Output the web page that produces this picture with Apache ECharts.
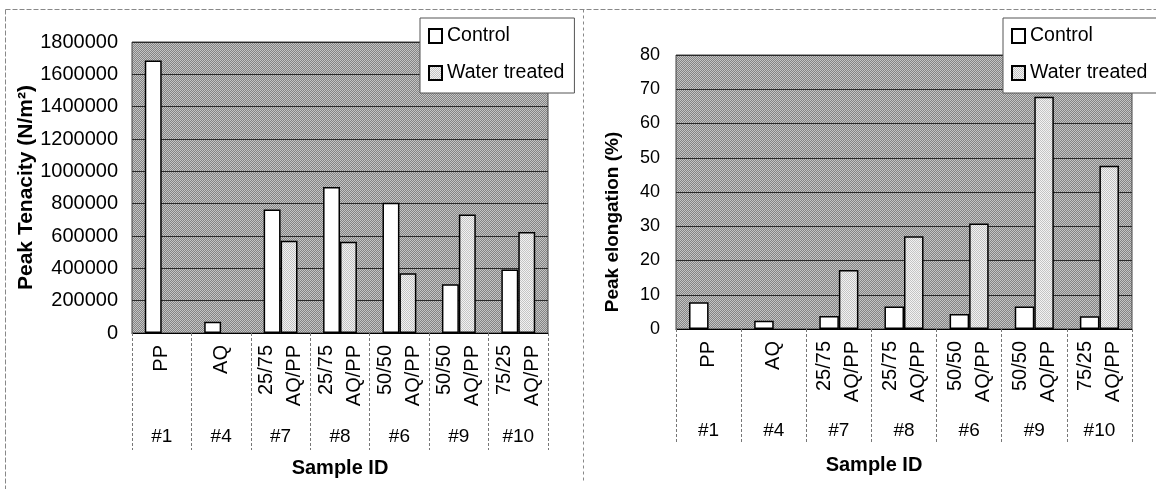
<!DOCTYPE html>
<html>
<head>
<meta charset="utf-8">
<script src="https://cdn.jsdelivr.net/npm/echarts@6/dist/echarts.min.js"></script>
<style>
  html, body { margin: 0; padding: 0; background: #fff; }
  #chart { width: 1156px; height: 489px; }
</style>
</head>
<body>
<div id="chart"></div>
<script>
const categories = ['PP', 'AQ', '25/75\nAQ/PP', '25/75\nAQ/PP', '50/50\nAQ/PP', '50/50\nAQ/PP', '75/25\nAQ/PP'];
const sampleIds = ['#1', '#4', '#7', '#8', '#6', '#9', '#10'];
const seriesNames = ['Control', 'Water treated'];

const tenacityControl = [1685000, 70000, 764000, 903000, 805000, 301000, 393000];
const tenacityWater = [null, null, 570000, 565000, 369000, 733000, 625000];

const elongationControl = [7.8, 2.4, 3.8, 6.6, 4.4, 6.6, 3.7];
const elongationWater = [null, null, 17.2, 27.1, 30.8, 67.8, 47.7];

const FONT = '"Liberation Sans", Arial, sans-serif';

// small checker tile, to look like the dithered fills of the scan
function dither(base, dot) {
    const c = document.createElement('canvas');
    c.width = 2;
    c.height = 2;
    const ctx = c.getContext('2d');
    ctx.fillStyle = base;
    ctx.fillRect(0, 0, 2, 2);
    ctx.fillStyle = dot;
    ctx.fillRect(0, 0, 1, 1);
    ctx.fillRect(1, 1, 1, 1);
    return c;
}

const plotFill = { image: dither('#848484', '#c4c4c4'), repeat: 'repeat' };
const waterFill = { image: dither('#f2f2f2', '#c4c4c4'), repeat: 'repeat' };

function catAxis(gridIndex, tickLen, gap) {
    return [{
        type: 'category',
        gridIndex: gridIndex,
        data: categories,
        name: 'Sample ID',
        nameLocation: 'middle',
        nameGap: gap,
        nameTextStyle: { fontFamily: FONT, fontSize: 20, fontWeight: 'bold', color: '#000',
            padding: gridIndex === 1 ? [0, 60, 0, 0] : 0 },
        axisLine: { lineStyle: { color: '#000', width: 1 } },
        axisTick: { show: true, length: tickLen, interval: 0,
            lineStyle: { color: '#777', type: [3, 2], width: 1 } },
        axisLabel: { interval: 0, rotate: 90, margin: 12, fontFamily: FONT, fontSize: 20,
            lineHeight: 28, color: '#000' },
        splitLine: { show: false }
    }, {
        type: 'category',
        gridIndex: gridIndex,
        data: sampleIds,
        position: 'bottom',
        offset: gridIndex === 0 ? 88 : 86,
        axisLine: { show: false },
        axisTick: { show: false },
        axisLabel: { interval: 0, margin: 6, fontFamily: FONT, fontSize: 19, color: '#000' }
    }];
}

function legendAt(left) {
    return {
        orient: 'vertical',
        left: left,
        top: 18,
        data: seriesNames,
        icon: 'rect',
        itemWidth: 13,
        itemHeight: 14,
        itemGap: 17,
        padding: [8, 10, 10, 8],
        backgroundColor: '#fff',
        borderColor: '#555',
        borderWidth: 1,
        borderRadius: 0,
        textStyle: { fontFamily: FONT, fontSize: 19.5, color: '#000' }
    };
}

function bars(name, data, axisIdx, fill, gap) {
    return {
        name: name,
        type: 'bar',
        xAxisIndex: axisIdx,
        yAxisIndex: axisIdx === 0 ? 0 : 1,
        data: data,
        barGap: '0%',
        barCategoryGap: gap,
        itemStyle: { color: fill, borderColor: '#000', borderWidth: 1.5 },
        emphasis: { disabled: true }
    };
}

const chart = echarts.init(document.getElementById('chart'));

const xLeft = catAxis(0, 117, 125);
const xRight = catAxis(1, 113, 126);

chart.setOption({
    animation: false,
    backgroundColor: '#fff',
    grid: [
        { left: 132, right: 608, top: 42, bottom: 156, show: true,
          backgroundColor: plotFill, borderColor: '#444', borderWidth: 1 },
        { left: 676, right: 24, top: 55, bottom: 160, show: true,
          backgroundColor: plotFill, borderColor: '#444', borderWidth: 1 }
    ],
    legend: [legendAt(420), legendAt(1003)],
    xAxis: [xLeft[0], xLeft[1], xRight[0], xRight[1]],
    yAxis: [{
        type: 'value',
        gridIndex: 0,
        min: 0,
        max: 1800000,
        interval: 200000,
        name: 'Peak Tenacity (N/m²)',
        nameLocation: 'middle',
        nameGap: 84,
        nameTextStyle: { fontFamily: FONT, fontSize: 21, fontWeight: 'bold', color: '#000' },
        axisLine: { show: false },
        axisTick: { show: false },
        axisLabel: { margin: 14, fontFamily: FONT, fontSize: 20, color: '#000',
            formatter: (v) => String(v) },
        splitLine: { lineStyle: { color: '#2a2a2a', width: 1 } }
    }, {
        type: 'value',
        gridIndex: 1,
        min: 0,
        max: 80,
        interval: 10,
        name: 'Peak elongation (%)',
        nameLocation: 'middle',
        nameGap: 54,
        nameTextStyle: { fontFamily: FONT, fontSize: 19, fontWeight: 'bold', color: '#000',
            padding: [0, 60, 0, 0] },
        axisLine: { show: false },
        axisTick: { show: false },
        axisLabel: { margin: 16, fontFamily: FONT, fontSize: 18, color: '#000' },
        splitLine: { lineStyle: { color: '#2a2a2a', width: 1 } }
    }],
    series: [
        bars('Control', tenacityControl, 0, '#fff', '43%'),
        bars('Water treated', tenacityWater, 0, waterFill, '43%'),
        bars('Control', elongationControl, 2, '#fff', '40%'),
        bars('Water treated', elongationWater, 2, waterFill, '40%')
    ],
    graphic: [
        { type: 'line', silent: true, shape: { x1: 5.5, y1: 9.5, x2: 1156, y2: 9.5 },
          style: { stroke: '#888', lineWidth: 1, lineDash: [5, 2] } },
        { type: 'line', silent: true, shape: { x1: 5.5, y1: 9.5, x2: 5.5, y2: 489 },
          style: { stroke: '#888', lineWidth: 1, lineDash: [5, 2] } },
        { type: 'line', silent: true, shape: { x1: 583.5, y1: 9.5, x2: 583.5, y2: 482 },
          style: { stroke: '#888', lineWidth: 1, lineDash: [3, 3] } }
    ]
});
</script>
</body>
</html>
